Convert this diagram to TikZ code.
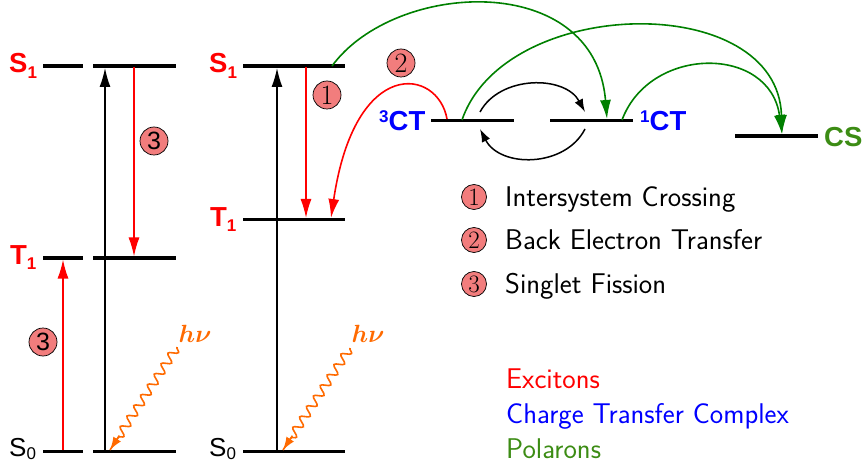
\documentclass[tikz,border=0pt]{standalone}
\usepackage{fontspec}
\newfontfamily\arial{Liberation Sans}
\usetikzlibrary{arrows.meta,decorations.pathmorphing,calc}
\definecolor{salm}{RGB}{242,125,125}
\definecolor{arrgreen}{RGB}{0,128,0}
\definecolor{polgreen}{RGB}{60,140,20}
\definecolor{hvorange}{RGB}{255,106,0}
\newcommand{\lsub}[1]{\raisebox{-0.35ex}{\fontsize{17}{17}\selectfont #1}}
\newcommand{\lsubz}[1]{\raisebox{-0.22ex}{\fontsize{17}{17}\selectfont #1}}
\newcommand{\lsup}[1]{\raisebox{0.6ex}{\fontsize{17}{17}\selectfont #1}}
\begin{document}
\begin{tikzpicture}[x=1pt,y=-1pt,
  lvl/.style={line width=3.4pt},
  arr/.style={-{Latex[length=19pt,width=11pt]}, line width=1.6pt},
  sarr/.style={-{Latex[length=13pt,width=9pt]}, line width=1.5pt},
  circ/.style={circle, draw, line width=0.7pt, fill=salm, inner sep=0pt, minimum size=28pt, font=\fontsize{28}{28}\selectfont},
  lcirc/.style={circ, minimum size=25pt, font=\fontsize{25}{25}\selectfont},
  lbl/.style={anchor=base west, inner sep=0pt, font=\arial\bfseries\fontsize{27.5}{30}\selectfont},
  lblr/.style={anchor=base west, inner sep=0pt, font=\arial\fontsize{26}{30}\selectfont},
  leg/.style={anchor=base west, inner sep=0pt, font=\sffamily\fontsize{28.5}{32}\selectfont},
  wave/.style={hvorange, line width=1.6pt, decorate, decoration={snake, amplitude=4.3pt, segment length=12.5pt, post length=14pt}},
  hv/.style={hvorange, inner sep=0pt, font=\fontsize{23}{23}\selectfont\boldmath}]
\useasboundingbox (0,0) rectangle (862,465);
% ---------- left diagram ----------
\coordinate (LS1a) at (43,66);  \coordinate (LS1b) at (83,66);
\coordinate (LS1c) at (93,66);  \coordinate (LS1d) at (176,66);
\coordinate (LT1a) at (43,258); \coordinate (LT1b) at (83,258);
\coordinate (LT1c) at (93,258); \coordinate (LT1d) at (176,258);
\coordinate (LS0a) at (43,451.5); \coordinate (LS0b) at (83,451.5);
\coordinate (LS0c) at (93,451.5); \coordinate (LS0d) at (176,451.5);
\foreach \a/\b in {LS1a/LS1b,LS1c/LS1d,LT1a/LT1b,LT1c/LT1d,LS0a/LS0b,LS0c/LS0d}
  \draw[lvl] (\a) -- (\b);
\node[lbl, red] (lS1) at (9,73) {S\lsub{1}};
\node[lbl, red] (lT1) at (10,264) {T\lsub{1}};
\node[lblr] (lS0) at (9,456) {S\lsubz{0}};
\coordinate (Lbot) at (105,450); \coordinate (Ltop) at (105,68);
\draw[arr, line width=1.4pt] (Lbot) -- (Ltop);
\coordinate (Lr1) at (134,67.5); \coordinate (Lr2) at (134,256.5);
\draw[arr, red] (Lr1) -- (Lr2);
\coordinate (Lu1) at (63,450); \coordinate (Lu2) at (63,259.5);
\draw[arr, red] (Lu1) -- (Lu2);
\node[circ, font=\arial\fontsize{25}{25}\selectfont] (c3a) at (154,141) {3};
\node[circ, font=\arial\fontsize{25}{25}\selectfont] (c3b) at (43,342) {3};
\coordinate (Lw1) at (177,347); \coordinate (Lw2) at (110,450);
\draw[wave] (Lw1) -- (Lw2);
\draw[hvorange, line width=1.6pt, -{Latex[length=13pt,width=9pt]}] ($(Lw1)!0.86!(Lw2)$) -- (Lw2);
\node[hv] (hv1) at (195,334) {$h\nu$};
% ---------- middle diagram ----------
\coordinate (MS1a) at (243,66);  \coordinate (MS1b) at (345,66);
\coordinate (MT1a) at (243,219.5); \coordinate (MT1b) at (345,219.5);
\coordinate (MS0a) at (243,451.5); \coordinate (MS0b) at (345,451.5);
\foreach \a/\b in {MS1a/MS1b,MT1a/MT1b,MS0a/MS0b}
  \draw[lvl] (\a) -- (\b);
\node[lbl, red] (mS1) at (209,73) {S\lsub{1}};
\node[lbl, red] (mT1) at (210,226) {T\lsub{1}};
\node[lblr] (mS0) at (209,456) {S\lsubz{0}};
\coordinate (Mbot) at (277,450); \coordinate (Mtop) at (277,68);
\draw[arr, line width=1.4pt] (Mbot) -- (Mtop);
\coordinate (Mr1) at (306,67.5); \coordinate (Mr2) at (306,218);
\draw[arr, red] (Mr1) -- (Mr2);
\node[circ] (c1) at (327,95) {1};
\coordinate (Mw1) at (350,348); \coordinate (Mw2) at (283,450);
\draw[wave] (Mw1) -- (Mw2);
\draw[hvorange, line width=1.6pt, -{Latex[length=13pt,width=9pt]}] ($(Mw1)!0.86!(Mw2)$) -- (Mw2);
\node[hv] (hv2) at (368,334) {$h\nu$};
% ---------- CT states ----------
\coordinate (T3a) at (431,120.5); \coordinate (T3b) at (514,120.5);
\coordinate (T1a) at (550,120.5); \coordinate (T1b) at (633,120.5);
\coordinate (CSa) at (735,136);   \coordinate (CSb) at (818,136);
\foreach \a/\b in {T3a/T3b,T1a/T1b,CSa/CSb}
  \draw[lvl] (\a) -- (\b);
\node[lbl, blue] (l3CT) at (379,131) {\lsup{3}CT};
\node[lbl, blue] (l1CT) at (640,131) {\lsup{1}CT};
\node[lbl, polgreen] (lCS) at (824,146.5) {CS};
% back electron transfer
\coordinate (bet1) at (447,119); \coordinate (bet2) at (331,218);
\draw[arr, red] (bet1) .. controls (438,68) and (355,55) .. (bet2);
\node[circ] (c2) at (401,63) {2};
% black interconversion
\coordinate (k1) at (480,112); \coordinate (k2) at (585,112);
\coordinate (k3) at (585,129); \coordinate (k4) at (480,129);
\draw[sarr] (k1) .. controls (500,75) and (565,75) .. (k2);
\draw[sarr] (k3) .. controls (565,168) and (500,168) .. (k4);
% green polaron paths
\coordinate (g1s) at (332,66);  \coordinate (g1e) at (607,119);
\coordinate (g2s) at (462,120); \coordinate (g2e) at (782,134);
\coordinate (g3s) at (622,120);
\draw[arr, arrgreen] (g1s) .. controls (395,-20) and (595,-30) .. (g1e);
\draw[arr, arrgreen] (g2s) .. controls (505,-5) and (778,-10) .. (g2e);
\draw[arr, arrgreen] (g3s) .. controls (650,45) and (770,45) .. (g2e);
% ---------- legend ----------
\node[lcirc] (k1c) at (474,197) {1};
\node[lcirc] (k2c) at (474,240) {2};
\node[lcirc] (k3c) at (474,284) {3};
\node[leg] (t1) at (505,207) {Intersystem Crossing};
\node[leg] (t2) at (505,250) {Back Electron Transfer};
\node[leg] (t3) at (505,293) {Singlet Fission};
\node[leg, red] (e1) at (506,388) {Excitons};
\node[leg, blue] (e2) at (506,423) {Charge Transfer Complex};
\node[leg, polgreen] (e3) at (506,458) {Polarons};
\end{tikzpicture}
\end{document}
